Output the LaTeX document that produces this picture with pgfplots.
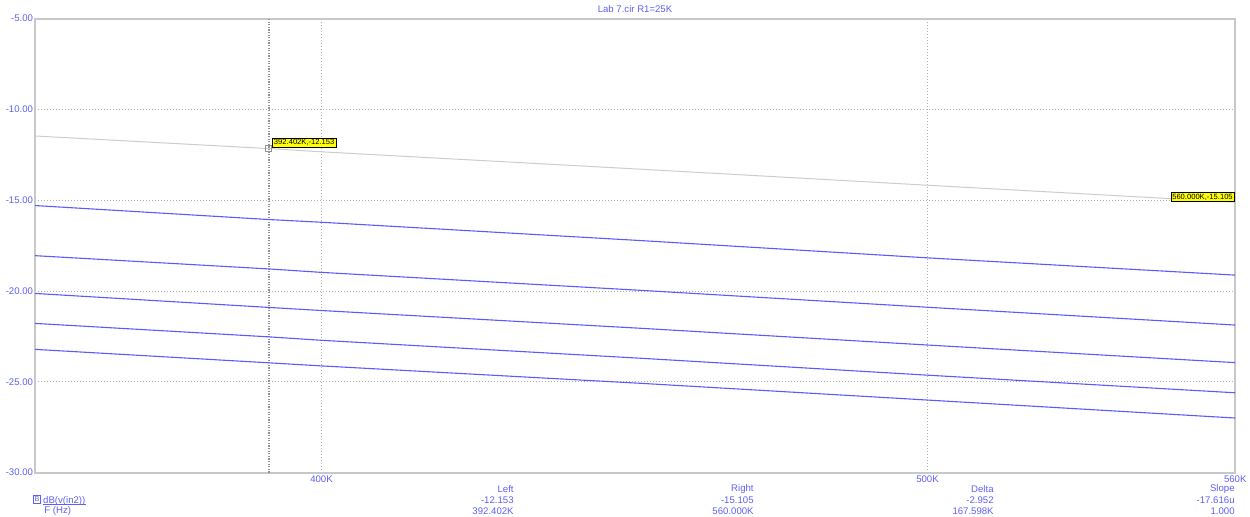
\documentclass[border=0pt]{standalone}
\usepackage{pgfplots}
\pgfplotsset{compat=1.18}
\usepackage{pgfplotstable}
\usepackage{fontspec}
\setmainfont{Liberation Sans}

\definecolor{traceblue}{RGB}{90,90,255}
\definecolor{textblue}{RGB}{95,95,245}
\definecolor{tracegray}{RGB}{205,205,205}
\definecolor{gridgray}{RGB}{175,175,175}
\definecolor{framegray}{RGB}{200,200,200}
\definecolor{cursorgray}{RGB}{145,145,145}
\definecolor{tagyellow}{RGB}{255,255,0}

% Frequency in kHz, gain in dB: cursor trace (g) and five stepped traces (b1..b5)
\pgfplotstableread{
f        g        b1      b2      b3      b4      b5
360      -11.46   -15.29  -18.05  -20.13  -21.78  -23.21
392.402  -12.153  -16.06  -18.78  -20.90  -22.52  -23.95
400      -12.33   -16.21  -18.97  -21.07  -22.71  -24.12
450      -13.29   -17.22  -19.96  -22.05  -23.70  -25.08
500      -14.17   -18.17  -20.89  -22.97  -24.63  -26.00
560      -15.105  -19.12  -21.87  -23.94  -25.60  -26.99
}\gaindata

\newcommand{\lbl}{\fontsize{4.8}{5.3}\selectfont}
\newcommand{\tag}{\fontsize{3.8}{4.2}\selectfont}

\begin{document}
\begin{tikzpicture}
\begin{axis}[
  at={(0,0)}, anchor=south west,
  scale only axis,
  width=600pt, height=227pt,
  xmode=log,
  xmin=360, xmax=560,
  ymin=-30, ymax=-5,
  xtick={400,500,560},
  xticklabels={400K,500K,560K},
  ytick={-30,-25,-20,-15,-10,-5},
  yticklabels={-30.00,-25.00,-20.00,-15.00,-10.00,-5.00},
  minor xtick={}, minor ytick={},
  major tick length=0pt,
  grid=major,
  major grid style={gridgray, dash pattern=on 0.5pt off 1pt, line width=0.45pt},
  axis line style={framegray, line width=0.9pt},
  tick label style={font=\lbl, text=textblue},
  xticklabel style={anchor=north, inner sep=0pt, yshift=-1.6pt},
  yticklabel style={anchor=east, inner sep=0pt, xshift=-0.9pt},
  clip=false,
]
% cursor line at the left readout frequency
\addplot[cursorgray, dash pattern=on 0.6pt off 0.7pt, line width=0.7pt] coordinates {(392.402,-30) (392.402,-5)};
% traces
\addplot[tracegray, line width=0.5pt] table[x=f, y=g] {\gaindata};
\addplot[traceblue, line width=0.55pt] table[x=f, y=b1] {\gaindata};
\addplot[traceblue, line width=0.55pt] table[x=f, y=b2] {\gaindata};
\addplot[traceblue, line width=0.55pt] table[x=f, y=b3] {\gaindata};
\addplot[traceblue, line width=0.55pt] table[x=f, y=b4] {\gaindata};
\addplot[traceblue, line width=0.55pt] table[x=f, y=b5] {\gaindata};
% cursor marker
\addplot[only marks, mark=square, mark size=1.5pt, mark options={cursorgray, line width=0.4pt}] coordinates {(392.402,-12.153)};
% cursor tags
\node[anchor=south west, fill=tagyellow, draw=black, line width=0.3pt, inner sep=0.7pt, font=\tag, xshift=1.7pt, yshift=0.5pt]
  at (axis cs:392.402,-12.153) {392.402K,-12.153};
\node[anchor=south east, fill=tagyellow, draw=black, line width=0.3pt, inner sep=0.7pt, font=\tag, xshift=-0.4pt, yshift=0.1pt]
  at (axis cs:560,-15.105) {560.000K,-15.105};
\end{axis}

% title
\node[font=\lbl, text=textblue] at (300pt,232.0pt) {Lab 7.cir R1=25K};

% readout table
\begin{scope}[every node/.style={font=\lbl, text=textblue, inner sep=0pt, anchor=east}]
\node at (239.5pt,-8.15pt) {Left};
\node at (239.5pt,-13.65pt) {-12.153};
\node at (239.5pt,-19.15pt) {392.402K};
\node at (359.5pt,-8.15pt) {Right};
\node at (359.5pt,-13.65pt) {-15.105};
\node at (359.5pt,-19.15pt) {560.000K};
\node at (479.5pt,-8.15pt) {Delta};
\node at (479.5pt,-13.65pt) {-2.952};
\node at (479.5pt,-19.15pt) {167.598K};
\node at (600pt,-8.15pt) {Slope};
\node at (600pt,-13.65pt) {-17.616u};
\node at (600pt,-19.15pt) {1.000};
\end{scope}
\node[draw=textblue, line width=0.35pt, inner sep=0pt, minimum width=3.8pt, minimum height=3.8pt,
      font=\fontsize{3.6}{3.8}\selectfont, text=textblue] at (1.0pt,-13.4pt) {B};
\node[anchor=base west, inner sep=0pt, font=\lbl, text=textblue] (tr) at (3.9pt,-15.3pt) {dB(v(in2))};
\draw[textblue, line width=0.3pt] ([yshift=-0.7pt]tr.base west) -- ([yshift=-0.7pt]tr.base east);
\node[anchor=west, inner sep=0pt, font=\lbl, text=textblue] at (4.5pt,-19.15pt) {F (Hz)};

\pgfresetboundingbox
\path[use as bounding box] (-17.5pt,-22.15pt) rectangle (607.5pt,236.35pt);
\end{tikzpicture}
\end{document}
